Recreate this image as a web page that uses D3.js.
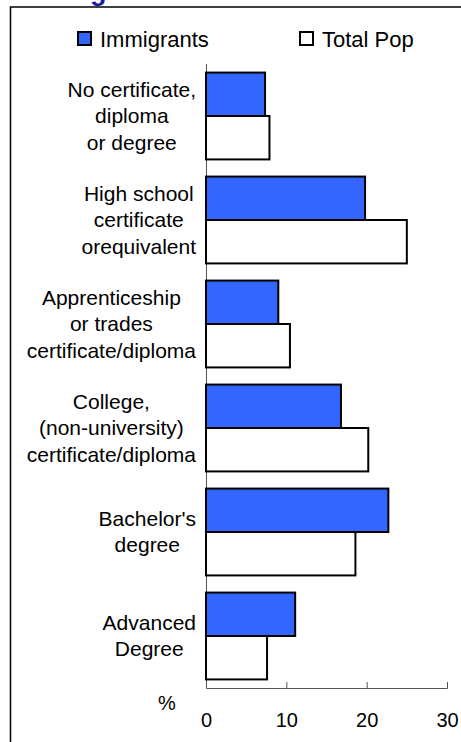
<!DOCTYPE html>
<html>
<head>
<meta charset="utf-8">
<script src="https://cdn.jsdelivr.net/npm/d3@7"></script>
<style>
  body { margin: 0; background: #fff; }
  svg { display: block; font-family: "Liberation Sans", Arial, sans-serif; }
</style>
</head>
<body>
<script>
'use strict';
// values (percent)
const categories = ["No certificate", "High school", "Apprenticeship", "College", "Bachelor", "Advanced"];
const categoryLines = [
  ["No certificate,", "diploma", "or degree"],
  ["High school", "certificate", "orequivalent"],
  ["Apprenticeship", "or trades", "certificate/diploma"],
  ["College,", "(non-university)", "certificate/diploma"],
  ["Bachelor's", "degree"],
  ["Advanced", "Degree"]
];
const immigrants = [7.35, 19.8, 9.0, 16.8, 22.7, 11.1];
const totalPop = [7.9, 25.0, 10.45, 20.2, 18.6, 7.6];
const seriesNames = ["Immigrants", "Total Pop"];
const seriesColors = ["#3366ff", "#ffffff"];
const xTicks = [0, 10, 20, 30];

(function () {
  const width = 461, height = 742;
  const svg = d3.select('body').append('svg')
    .attr('width', width)
    .attr('height', height);

  // title, mostly cut off above the frame
  svg.append('text')
    .attr('x', 63)
    .attr('y', 0)
    .style('font-size', '27px')
    .style('font-weight', 'bold')
    .attr('fill', '#1c1c9c')
    .text('Highest level of education');

  // frame
  svg.append('path')
    .attr('d', 'M10.5,742V7H461')
    .attr('fill', 'none')
    .attr('stroke', '#000')
    .attr('stroke-width', 1.5);

  let x = d3.scaleLinear().domain([0, 30]).range([206, 447]);
  let y = d3.scaleBand().domain(categories).range([64, 688])
    .paddingInner(0.165).paddingOuter(0.0825);
  let bh = y.bandwidth() / 2;

  // y axis line
  svg.append('line')
    .attr('x1', x(0) + 0.5).attr('x2', x(0) + 0.5)
    .attr('y1', 64).attr('y2', 688)
    .attr('stroke', '#555');

  // x axis, ticks point up
  let xAxis = d3.axisBottom(x).tickValues(xTicks).tickSize(-6).tickSizeOuter(-6).tickPadding(25);
  let gx = svg.append('g')
    .attr('transform', 'translate(0,688)')
    .call(xAxis);
  gx.selectAll('path, line').attr('stroke', '#555');
  gx.selectAll('text')
    .style('font-size', '20px')
    .attr('fill', '#000')
    .attr('font-family', null);
  gx.attr('font-family', null).attr('font-size', null);

  svg.append('text')
    .attr('x', 167)
    .attr('y', 710)
    .attr('text-anchor', 'middle')
    .style('font-size', '20px')
    .text('%');

  // bars
  const series = [immigrants, totalPop];
  series.forEach((vals, s) => {
    svg.selectAll('.bar' + s)
      .data(categories)
      .enter()
      .append('rect')
      .attr('class', 'bar' + s)
      .attr('x', x(0))
      .attr('y', (d) => y(d) + s * bh)
      .attr('width', (d, i) => x(vals[i]) - x(0))
      .attr('height', bh)
      .attr('fill', seriesColors[s])
      .attr('stroke', '#000')
      .attr('stroke-width', 2);
  });

  // category labels: centred block, right edge near the axis
  categories.forEach((c, i) => {
    let lines = categoryLines[i];
    let g = svg.append('g');
    let texts = lines.map((ln, j) => g.append('text')
      .style('font-size', '21px')
      .attr('text-anchor', 'middle')
      .attr('y', y(c) + y.bandwidth() / 2 + (j - (lines.length - 1) / 2) * 26.5 + 7)
      .text(ln));
    let maxW = d3.max(texts, (t) => t.node().getComputedTextLength());
    texts.forEach((t) => t.attr('x', 196 - maxW / 2));
  });

  // legend
  const legendX = [78, 300];
  seriesNames.forEach((name, i) => {
    svg.append('rect')
      .attr('x', legendX[i])
      .attr('y', 32)
      .attr('width', 13)
      .attr('height', 13)
      .attr('fill', seriesColors[i])
      .attr('stroke', '#000')
      .attr('stroke-width', 2);
    svg.append('text')
      .attr('x', legendX[i] + 22)
      .attr('y', 46.5)
      .style('font-size', '22px')
      .text(name);
  });
})();
</script>
</body>
</html>
